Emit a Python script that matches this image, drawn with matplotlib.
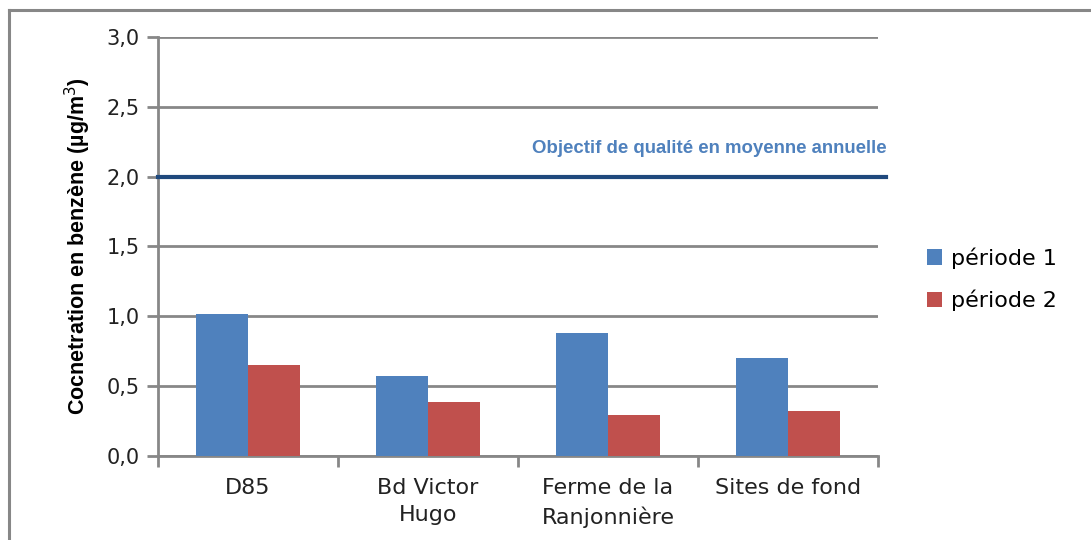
import matplotlib.pyplot as plt
import numpy as np

# Data
sites = ["D85", "Bd Victor\nHugo", "Ferme de la\nRanjonnière", "Sites de fond"]
periode_1 = [1.02, 0.57, 0.88, 0.70]
periode_2 = [0.65, 0.39, 0.29, 0.32]
objectif = 2.0

blue = "#4F81BD"
red = "#C0504D"
grid_grey = "#878787"

fig = plt.figure(figsize=(10.91, 5.40), dpi=100)
ax = fig.add_axes([0.1448, 0.1556, 0.660, 0.776])

x = np.arange(len(sites))
w = 0.287
ax.bar(x - w / 2, periode_1, w, color=blue, label="période 1", zorder=3)
ax.bar(x + w / 2, periode_2, w, color=red, label="période 2", zorder=3)

# quality objective line
ax.axhline(objectif, xmin=0, xmax=1.011, color="#1F497D", lw=3, zorder=4, clip_on=False)
ax.text(3.545, objectif + 0.2, "Objectif de qualité en moyenne annuelle",
        ha="right", va="center", color=blue, fontsize=13.4, fontweight="bold",
        family="Liberation Sans")

ax.set_xlim(-0.5, 3.5)
ax.set_ylim(0, 3.0)
yt = np.arange(0, 3.01, 0.5)
ax.set_yticks(yt)
ax.set_yticklabels([f"{v:.1f}".replace(".", ",") for v in yt])
ax.yaxis.grid(True, color=grid_grey, lw=2)
ax.set_axisbelow(True)

ax.set_xticks(x)
ax.set_xticklabels(sites, linespacing=1.45)
ax.set_xticks(np.arange(-0.5, 3.6, 1), minor=True)
ax.tick_params(axis="x", which="major", length=0, pad=16, labelsize=16, colors="#222222")
ax.tick_params(axis="x", which="minor", length=8, width=2, color=grid_grey)
ax.tick_params(axis="y", length=8, width=2, color=grid_grey, labelsize=15,
               labelcolor="#222222", pad=5)

for s in ["top", "right"]:
    ax.spines[s].set_visible(False)
for s in ["left", "bottom"]:
    ax.spines[s].set_color(grid_grey)
    ax.spines[s].set_linewidth(2)

ax.set_ylabel("Cocnetration en benzène (µg/m$^3$)", fontsize=15.5, fontweight="bold",
              family="Liberation Sans", labelpad=10)

ax.legend(loc="center left", bbox_to_anchor=(1.055, 0.422), frameon=False,
          fontsize=16, handlelength=0.7, handleheight=0.7, labelspacing=0.95,
          handletextpad=0.4, borderaxespad=0)

# outer chart frame
fig.add_artist(plt.Line2D([9 / 1091, 9 / 1091], [0, 1 - 10 / 540],
                          color=grid_grey, lw=2.2, transform=fig.transFigure))
fig.add_artist(plt.Line2D([9 / 1091, 1], [1 - 10 / 540, 1 - 10 / 540],
                          color=grid_grey, lw=2.2, transform=fig.transFigure))

fig.savefig("out.png", dpi=100)
